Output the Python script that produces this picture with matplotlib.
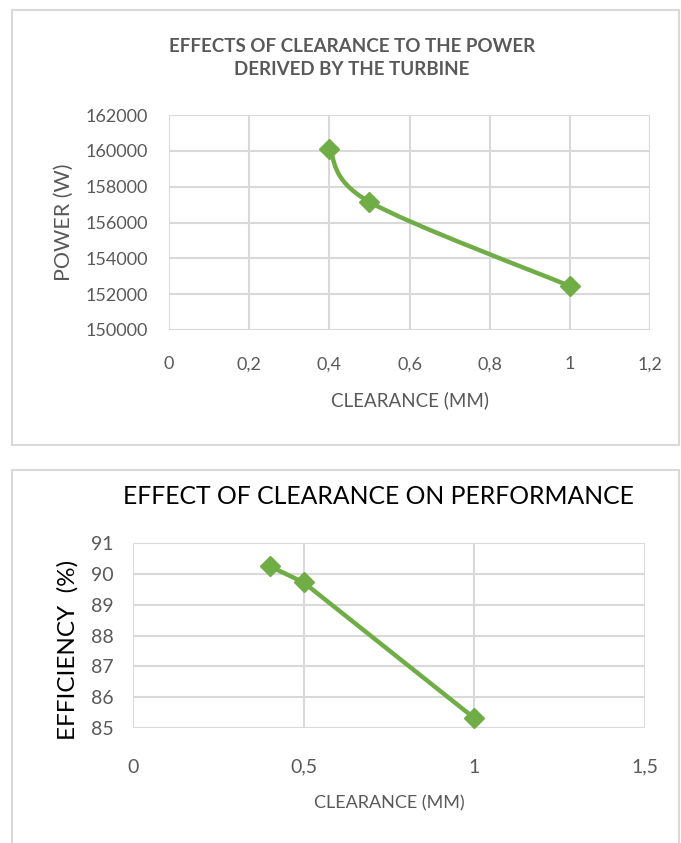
import matplotlib
matplotlib.use("Agg")
import matplotlib.pyplot as plt
import numpy as np
from matplotlib.path import Path
from matplotlib.patches import PathPatch, Rectangle

# ---- data ----
clearance = [0.4, 0.5, 1.0]
power = [160080, 157150, 152450]
efficiency = [90.25, 89.72, 85.32]

top_xticks = [0, 0.2, 0.4, 0.6, 0.8, 1.0, 1.2]
top_xticklabels = ["0", "0,2", "0,4", "0,6", "0,8", "1", "1,2"]
top_yticks = [150000, 152000, 154000, 156000, 158000, 160000, 162000]
top_yticklabels = ["150000", "152000", "154000", "156000", "158000", "160000", "162000"]

bot_xticks = [0, 0.5, 1.0, 1.5]
bot_xticklabels = ["0", "0,5", "1", "1,5"]
bot_yticks = [85, 86, 87, 88, 89, 90, 91]
bot_yticklabels = ["85", "86", "87", "88", "89", "90", "91"]

top_title = "EFFECTS OF CLEARANCE TO THE POWER\nDERIVED BY THE TURBINE"
top_xlabel = "CLEARANCE (MM)"
top_ylabel = "POWER (W)"
bot_title = "EFFECT OF CLEARANCE ON PERFORMANCE"
bot_xlabel = "CLEARANCE (MM)"
bot_ylabel = "EFFICIENCY  (%)"

GREEN = "#70ad47"
GRID = "#d9d9d9"
GRAY = "#595959"
FONT = ["Lato", "DejaVu Sans"]
NARROW = ["Liberation Sans Narrow", "Lato", "DejaVu Sans"]

W, H = 681, 843
fig = plt.figure(figsize=(W / 100, H / 100), dpi=100)
fig.patch.set_facecolor("white")


def fx(px):
    return px / W


def fy(py):
    return 1 - py / H


# outer boxes
fig.patches.append(Rectangle((fx(12), fy(445)), fx(679) - fx(12), fy(10) - fy(445),
                             transform=fig.transFigure, fill=False, edgecolor=GRID, lw=1.5))
fig.patches.append(Rectangle((fx(12), fy(860)), fx(679) - fx(12), fy(470) - fy(860),
                             transform=fig.transFigure, fill=False, edgecolor=GRID, lw=1.5))


def smooth_path(xs, ys):
    pts = [np.array([x, y], dtype=float) for x, y in zip(xs, ys)]
    n = len(pts)
    verts = [pts[0]]
    codes = [Path.MOVETO]
    for i in range(n - 1):
        p0 = pts[i - 1] if i > 0 else pts[i]
        p1 = pts[i]
        p2 = pts[i + 1]
        p3 = pts[i + 2] if i + 2 < n else pts[i + 1]
        c1 = p1 + (p2 - p0) / 6
        c2 = p2 - (p3 - p1) / 6
        verts += [c1, c2, p2]
        codes += [Path.CURVE4] * 3
    return Path(verts, codes)


def style_axes(ax):
    for s in ax.spines.values():
        s.set_visible(False)
    ax.grid(True, color=GRID, lw=1.5)
    ax.set_axisbelow(True)
    ax.tick_params(length=0)


# ---- top chart ----
ax1 = fig.add_axes([fx(169), fy(330), fx(650) - fx(169), fy(115) - fy(330)])
style_axes(ax1)
ax1.set_xlim(0, 1.2)
ax1.set_ylim(150000, 162000)
ax1.set_xticks(top_xticks)
ax1.set_xticklabels(top_xticklabels, family=FONT, fontsize=13, color=GRAY)
ax1.set_yticks(top_yticks)
ax1.set_yticklabels(top_yticklabels, family=FONT, fontsize=13, color=GRAY)
ax1.tick_params(axis="x", pad=19)
ax1.tick_params(axis="y", pad=15)
ax1.add_patch(PathPatch(smooth_path(clearance, power), fill=False, edgecolor=GREEN,
                        lw=3.2, capstyle="round", joinstyle="round"))
ax1.plot(clearance, power, linestyle="none", marker="D", markersize=10,
         color=GREEN, zorder=5)
fig.text(fx(410), fy(400), top_xlabel, ha="center", va="center", family=FONT,
         fontsize=13.5, color=GRAY)
fig.text(fx(64), fy(222), top_ylabel, ha="center", va="center", rotation=90,
         family=FONT, fontsize=15.5, color=GRAY)
fig.text(fx(352), fy(58), top_title, ha="center", va="center", family=FONT,
         fontweight="bold", fontsize=13.5, color=GRAY, linespacing=1.45)

# ---- bottom chart ----
ax2 = fig.add_axes([fx(133), fy(728), fx(645) - fx(133), fy(543) - fy(728)])
style_axes(ax2)
ax2.set_xlim(0, 1.5)
ax2.set_ylim(85, 91)
ax2.set_xticks(bot_xticks)
ax2.set_xticklabels(bot_xticklabels, family=NARROW, fontsize=14, color=GRAY)
ax2.set_yticks(bot_yticks)
ax2.set_yticklabels(bot_yticklabels, family=NARROW, fontsize=14, color=GRAY)
ax2.tick_params(axis="x", pad=22)
ax2.tick_params(axis="y", pad=14)
ax2.plot(clearance, efficiency, color=GREEN, lw=3.2, marker="D", markersize=10,
         solid_joinstyle="round")
fig.text(fx(389), fy(803), bot_xlabel, ha="center", va="center", family=NARROW,
         fontsize=13, color=GRAY)
fig.text(fx(68), fy(650), bot_ylabel, ha="center", va="center", rotation=90,
         family=FONT, fontsize=17.5, color="black")
fig.text(fx(378), fy(497), bot_title, ha="center", va="center", family=NARROW,
         fontsize=17.8, color="black")

fig.savefig("out.png", dpi=100, facecolor="white")
